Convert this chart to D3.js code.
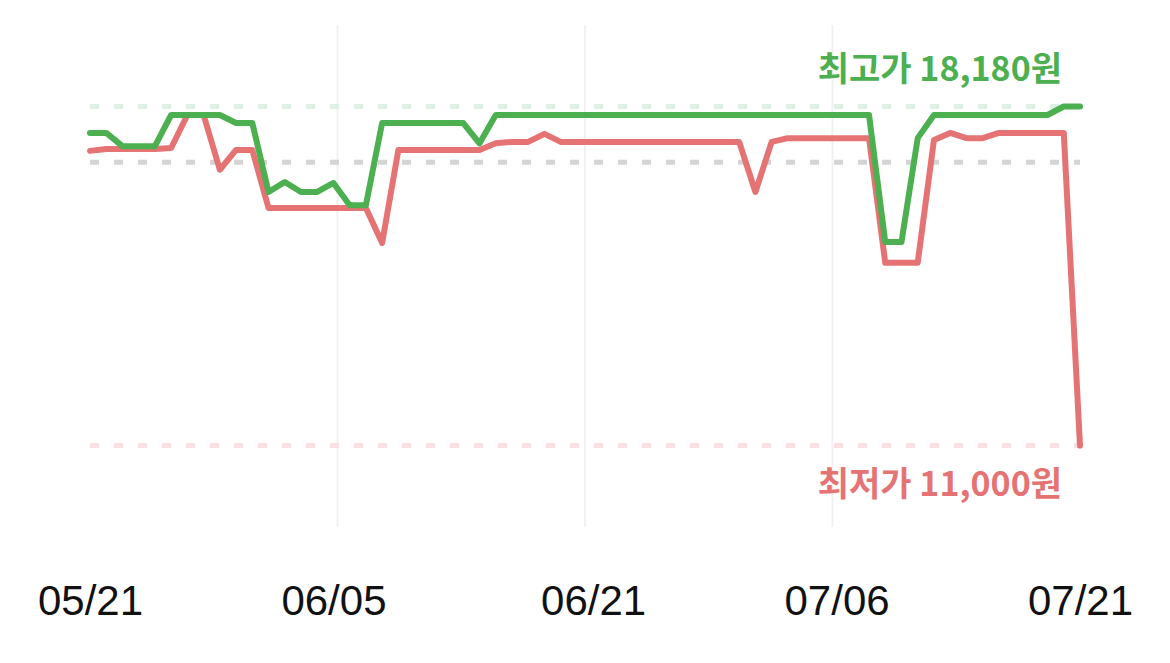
<!DOCTYPE html>
<html>
<head>
<meta charset="utf-8">
<script src="https://cdn.jsdelivr.net/npm/d3@7"></script>
<style>
  html, body { margin: 0; padding: 0; background: #fff; }
  svg { display: block; }
</style>
</head>
<body>
<script>
// daily prices 05/21 .. 07/21
const startDay = new Date(2024, 4, 21);
const endDay = new Date(2024, 6, 21);
const days = d3.timeDay.range(startDay, d3.timeDay.offset(endDay, 1));

const highPrices = [
  17620, 17620, 17340, 17340, 17340, 18000, 18000, 18000, 18000, 17830,
  17830, 16370, 16580, 16370, 16370, 16560, 16090, 16090, 17830, 17830,
  17830, 17830, 17830, 17830, 17400, 18000, 18000, 18000, 18000, 18000,
  18000, 18000, 18000, 18000, 18000, 18000, 18000, 18000, 18000, 18000,
  18000, 18000, 18000, 18000, 18000, 18000, 18000, 18000, 18000,
  15310, 15310, 17510,
  18000, 18000, 18000, 18000, 18000, 18000, 18000, 18000,
  18180, 18180
];

const lowPrices = [
  17240, 17280, 17280, 17280, 17280, 17300, 18000, 18000, 16840, 17260,
  17260, 16030, 16030, 16030, 16030, 16030, 16030, 16030, 15290, 17260,
  17260, 17260, 17260, 17260, 17260, 17400, 17430, 17430, 17600, 17430,
  17430, 17430, 17430, 17430, 17430, 17430, 17430, 17430, 17430, 17430,
  17430, 16370, 17430, 17510, 17510, 17510, 17510, 17510, 17510,
  14870, 14870, 14870,
  17470, 17620, 17510, 17510, 17620, 17620, 17620, 17620,
  17620, 11000
];

const tickDays = [new Date(2024, 4, 21), new Date(2024, 5, 5), new Date(2024, 5, 21),
                  new Date(2024, 6, 6), new Date(2024, 6, 21)];
const avgPrice = 17000;
const maxPrice = d3.max(highPrices);
const minPrice = d3.min(lowPrices);

const width = 1170, height = 663;
const green = "#4caf50", red = "#e57373";

const svg = d3.select("body").append("svg")
  .attr("width", width)
  .attr("height", height);

const x = d3.scaleTime()
  .domain([startDay, endDay])
  .range([90, 1080]);

const y = d3.scaleLinear()
  .domain([minPrice, maxPrice])
  .range([445.5, 106.5]);

// vertical grid, split in quarters
const t0 = startDay.getTime(), t1 = endDay.getTime();
const gridDays = [1, 2, 3].map(k => new Date(t0 + (t1 - t0) * k / 4));
svg.append("g")
  .selectAll("line")
  .data(gridDays)
  .join("line")
    .attr("x1", d => x(d))
    .attr("x2", d => x(d))
    .attr("y1", 25)
    .attr("y2", 527)
    .attr("stroke", "#f1f1f1")
    .attr("stroke-width", 2);

// reference lines (max / avg / min)
const refs = [
  {v: maxPrice, c: "#dcf1e4"},
  {v: avgPrice, c: "#d4d4d4"},
  {v: minPrice, c: "#f9e0e2"}
];
svg.append("g")
  .selectAll("line")
  .data(refs)
  .join("line")
    .attr("x1", x(startDay))
    .attr("x2", x(endDay))
    .attr("y1", d => y(d.v))
    .attr("y2", d => y(d.v))
    .attr("stroke", d => d.c)
    .attr("stroke-width", 5)
    .attr("stroke-dasharray", "9,15");

const line = d3.line()
  .x((d, i) => x(days[i]))
  .y(d => y(d));

svg.append("path")
  .datum(lowPrices)
  .attr("d", line)
  .attr("fill", "none")
  .attr("stroke", red)
  .attr("stroke-width", 6)
  .attr("stroke-linejoin", "round")
  .attr("stroke-linecap", "round");

svg.append("path")
  .datum(highPrices)
  .attr("d", line)
  .attr("fill", "none")
  .attr("stroke", green)
  .attr("stroke-width", 6)
  .attr("stroke-linejoin", "round")
  .attr("stroke-linecap", "round");

// labels
svg.append("text")
  .attr("x", 1062)
  .attr("y", y(maxPrice) - 26)
  .attr("text-anchor", "end")
  .attr("font-family", "'Noto Sans CJK KR', 'Noto Sans', sans-serif")
  .attr("font-weight", "bold")
  .attr("font-size", 34)
  .attr("fill", green)
  .text("최고가 " + d3.format(",")(maxPrice) + "원");

svg.append("text")
  .attr("x", 1062)
  .attr("y", y(minPrice) + 50)
  .attr("text-anchor", "end")
  .attr("font-family", "'Noto Sans CJK KR', 'Noto Sans', sans-serif")
  .attr("font-weight", "bold")
  .attr("font-size", 34)
  .attr("fill", red)
  .text("최저가 " + d3.format(",")(minPrice) + "원");

// x axis
const xAxis = svg.append("g")
  .attr("transform", "translate(0,600)")
  .call(d3.axisBottom(x)
    .tickValues(tickDays)
    .tickFormat(d3.timeFormat("%m/%d"))
    .tickSize(0));
xAxis.select(".domain").remove();
xAxis.selectAll("text")
  .attr("dy", 0)
  .attr("y", 15)
  .attr("font-family", "'Liberation Sans', Arial, sans-serif")
  .attr("font-size", 42)
  .attr("fill", "#111");
</script>
</body>
</html>
